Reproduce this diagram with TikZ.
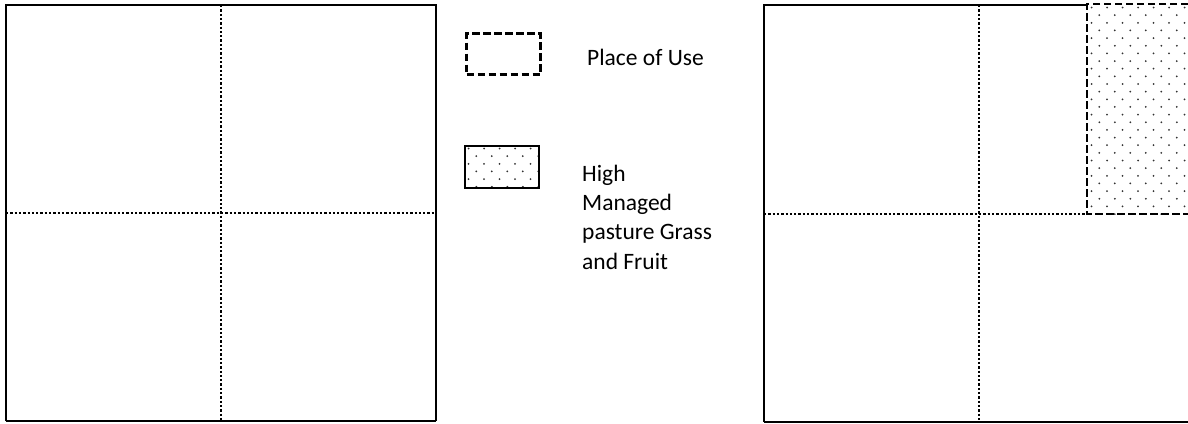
\documentclass[tikz,border=0pt]{standalone}
\usepackage{fontspec}
\setmainfont{Carlito}
\colorlet{dotcol}{black!80}
\tikzset{
  mapedge/.style={line width=2.4pt},
  thinedge/.style={line width=1.3pt},
  quarterline/.style={line width=2.4pt, dash pattern=on 2.3pt off 2pt},
  pou/.style={line width=2.2pt, dash pattern=on 7.5pt off 3.5pt},
  keytext/.style={anchor=base west, inner sep=0pt, align=left, font=\fontsize{23.5}{29.3}\selectfont},
}
\newcommand{\stipple}[4]{%
  \begin{scope}
    \clip (#1,#2) rectangle (#3,#4);
    \foreach \row in {0,...,30} {
      \pgfmathsetmacro{\yy}{#2+3.5+7.65*\row}
      \pgfmathsetmacro{\xoff}{mod(\row,2)*7.75}
      \foreach \col in {0,...,8}
        \fill[dotcol] ({#1+4.5+\xoff+15.5*\col},\yy) circle (1.0);
    }
  \end{scope}}
\begin{document}
\begin{tikzpicture}[x=1pt, y=-1pt]
\useasboundingbox (0,0) rectangle (1188,423);
\draw[quarterline] (221,5) -- (221,421);
\draw[quarterline] (6,213) -- (436,213);
\draw[mapedge] (6,421) -- (6,5) -- (436,5) -- (436,421);
\draw[thinedge] (6,421) -- (436,421);
\node[draw, pou, minimum width=74pt, minimum height=41pt, inner sep=0pt] (pouKey) at (503.5,54) {};
\node[keytext] (pouText) at (587,65) {Place of Use};
\stipple{464}{145}{539}{188}
\node[draw, line width=2pt, minimum width=74pt, minimum height=42pt, inner sep=0pt] (grassKey) at (501.5,166.5) {};
\node[keytext] (grassText) at (582,269) {High\\Managed\\pasture Grass\\and Fruit};
\draw[quarterline] (979,5) -- (979,422);
\draw[quarterline] (764,214) -- (1087,214);
\stipple{1087}{4}{1188}{214}
\draw[pou] (1188,4) -- (1087,4) -- (1087,214) -- (1188,214);
\draw[mapedge] (764,422) -- (764,5) -- (1087,5);
\draw[thinedge] (764,422) -- (1188,422);
\end{tikzpicture}
\end{document}
